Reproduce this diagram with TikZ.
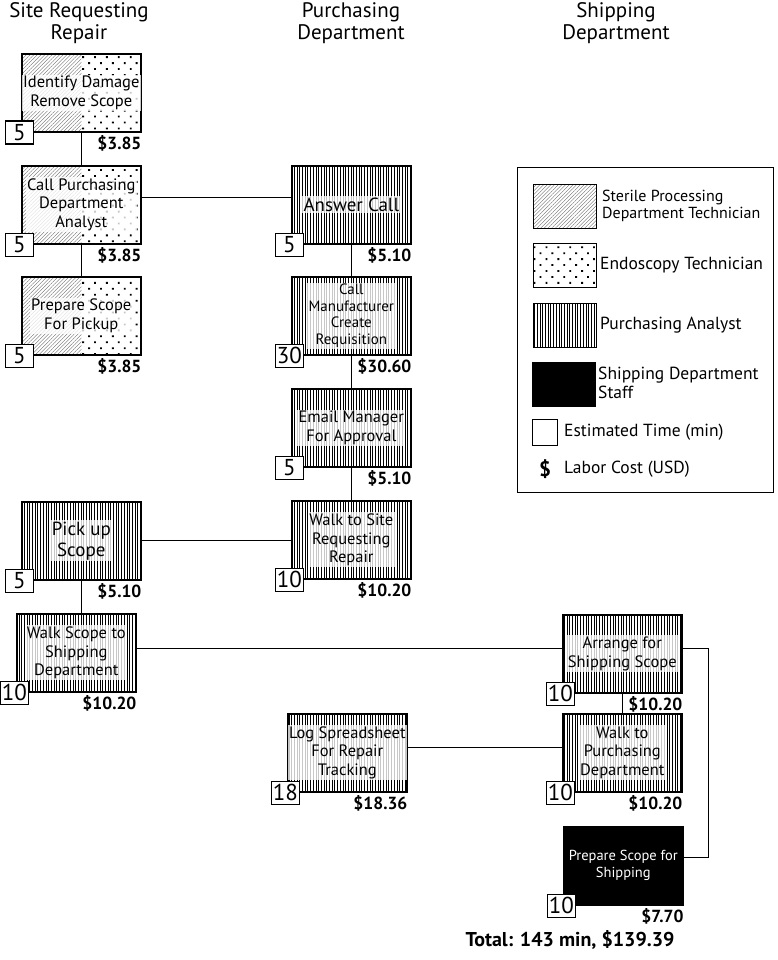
\documentclass[tikz,border=0pt]{standalone}
\usepackage{fontspec}
\setmainfont{PT Sans}
\usetikzlibrary{patterns.meta,calc}
\tikzset{
  hatchpat/.style={pattern={Lines[angle=45,distance=2.6pt,line width=0.35pt]},pattern color=black!60},
  dotpat/.style={pattern={Dots[angle=45,distance=8.4pt,radius=1.3pt]}},
  vlinepat/.style={pattern={Lines[angle=90,distance=2.7pt,line width=0.7pt]}},
  splitfill/.style={path picture={
     \fill[hatchpat] (path picture bounding box.south west) rectangle (path picture bounding box.north);
     \fill[dotpat] (path picture bounding box.south) rectangle (path picture bounding box.north east);}},
  vfill/.style={path picture={\fill[vlinepat] (path picture bounding box.south west) rectangle (path picture bounding box.north east);}},
  blackfill/.style={fill=black},
  boxborder/.style={draw,line width=1.6pt,minimum width=119pt,minimum height=78pt,inner sep=0pt},
  boxtext/.style={align=center,font=\fontsize{16.5}{18.5}\selectfont,inner sep=1.5pt,fill=white,fill opacity=0.78,text opacity=1},
  timebox/.style={draw,line width=1.1pt,fill=white,minimum width=28pt,minimum height=23pt,inner sep=1pt,font=\fontsize{23}{23}\selectfont},
  cost/.style={font=\fontsize{17.5}{18}\selectfont\bfseries,inner sep=0pt},
  header/.style={align=center,font=\fontsize{21}{22}\selectfont},
  conn/.style={line width=0.8pt},
  legtext/.style={align=left,anchor=west,inner sep=0pt,font=\fontsize{17.5}{19}\selectfont},
  swatch/.style={draw,line width=1.2pt,minimum width=63pt,minimum height=44pt,inner sep=0pt,anchor=north west}
}
% #1 name, #2 left, #3 top, #4 fill style, #5 text, #6 time, #7 cost, #8 text style
\newcommand\taskbox[8]{%
  \node[boxborder,#4,anchor=north west] (#1) at (#2,#3) {};
  \node[boxtext,#8] (#1x) at (#1.center) {#5};
  \node[timebox,anchor=south east] (#1t) at ($(#1.south west)+(13,12)$) {#6};
  \node[cost,anchor=base east] (#1c) at ($(#1.south east)+(0,17)$) {#7};
}
\begin{document}
\begin{tikzpicture}[x=1pt,y=-1pt]
\useasboundingbox[fill=white] (0,0) rectangle (777,960);
% headers
\node[header] (h1) at (79,23) {Site Requesting\\Repair};
\node[header] (h2) at (351,23) {Purchasing\\Department};
\node[header] (h3) at (616,23) {Shipping\\Department};
% left column
\taskbox{b1}{21}{53}{splitfill}{Identify Damage\\Remove Scope}{5}{\$3.85}{}
\taskbox{b2}{21}{165}{splitfill}{Call Purchasing\\Department\\Analyst}{5}{\$3.85}{}
\taskbox{b3}{21}{276}{splitfill}{Prepare Scope\\For Pickup}{5}{\$3.85}{}
\taskbox{pk}{21}{501}{vfill}{Pick up\\Scope}{5}{\$5.10}{font=\fontsize{19}{21}\selectfont}
\taskbox{ws}{16}{613}{vfill}{Walk Scope to\\Shipping\\Department}{10}{\$10.20}{}
% middle column
\taskbox{an}{291}{165}{vfill}{Answer Call}{5}{\$5.10}{font=\fontsize{19}{21}\selectfont}
\taskbox{cm}{291}{276}{vfill}{Call\\Manufacturer\\Create\\Requisition}{30}{\$30.60}{font=\fontsize{15}{16.5}\selectfont}
\taskbox{em}{291}{388}{vfill}{Email Manager\\For Approval}{5}{\$5.10}{}
\taskbox{st}{291}{500}{vfill}{Walk to Site\\Requesting\\Repair}{10}{\$10.20}{}
\taskbox{lg}{287}{713}{vfill}{Log Spreadsheet\\For Repair\\Tracking}{18}{\$18.36}{}
% right column
\taskbox{ar}{562}{614}{vfill}{Arrange for\\Shipping Scope}{10}{\$10.20}{}
\taskbox{wp}{562}{713}{vfill}{Walk to\\Purchasing\\Department}{10}{\$10.20}{}
\taskbox{bk}{563}{826}{blackfill}{Prepare Scope for\\Shipping}{10}{\$7.70}{text=white,fill=none,font=\fontsize{14.5}{17}\selectfont}
% connectors
\draw[conn] (b1.south) -- (b2.north);
\draw[conn] (b2.south) -- (b3.north);
\draw[conn] ([yshift=7pt]b2.east) -- ([yshift=7pt]an.west);
\draw[conn] (an.south) -- (cm.north);
\draw[conn] (cm.south) -- (em.north);
\draw[conn] (em.south) -- (st.north);
\draw[conn] (pk.east) -- (pk.east -| st.west);
\draw[conn] (pk.south) -- (pk.south |- ws.north);
\draw[conn] ([yshift=4pt]ws.east) -- ([yshift=4pt]ws.east -| ar.west);
\draw[conn] (ar.south) -- (wp.north);
\draw[conn] ([yshift=5pt]wp.west) -- ([yshift=5pt]wp.west -| lg.east);
\coordinate (r1) at ($(ar.east)+(26,0)$);
\draw[conn] ([yshift=5pt]ar.east) -- ([yshift=5pt]r1) |- ([yshift=8pt]bk.east);
% legend
\node[draw,line width=1.2pt,minimum width=256pt,minimum height=325pt,anchor=north west,inner sep=0pt] (leg) at (517,167) {};
\node[swatch,path picture={\fill[hatchpat] (path picture bounding box.south west) rectangle (path picture bounding box.north east);}] (s1) at (533,184) {};
\node[legtext,font=\fontsize{16}{17.5}\selectfont] (l1) at (602,206) {Sterile Processing\\Department Technician};
\node[swatch,path picture={\fill[dotpat] (path picture bounding box.south west) rectangle (path picture bounding box.north east);}] (s2) at (533,243) {};
\node[legtext] (l2) at (600,265) {Endoscopy Technician};
\node[swatch,vfill] (s3) at (533,303) {};
\node[legtext] (l3) at (600,325) {Purchasing Analyst};
\node[swatch,fill=black] (s4) at (532,362) {};
\node[legtext] (l4) at (598,383) {Shipping Department\\Staff};
\node[draw,line width=1.1pt,minimum width=25pt,minimum height=26pt,inner sep=0pt,anchor=north west] (s5) at (532,419) {};
\node[legtext] (l5) at (564,432) {Estimated Time (min)};
\node[font=\fontsize{21}{21}\selectfont\bfseries,inner sep=0pt] (s6) at (545,469) {\$};
\node[legtext] (l6) at (564,469) {Labor Cost (USD)};
% total
\node[font=\fontsize{20}{20}\selectfont\bfseries,inner sep=0pt] (tot) at (570,940) {Total: 143 min, \$139.39};
\end{tikzpicture}
\end{document}
